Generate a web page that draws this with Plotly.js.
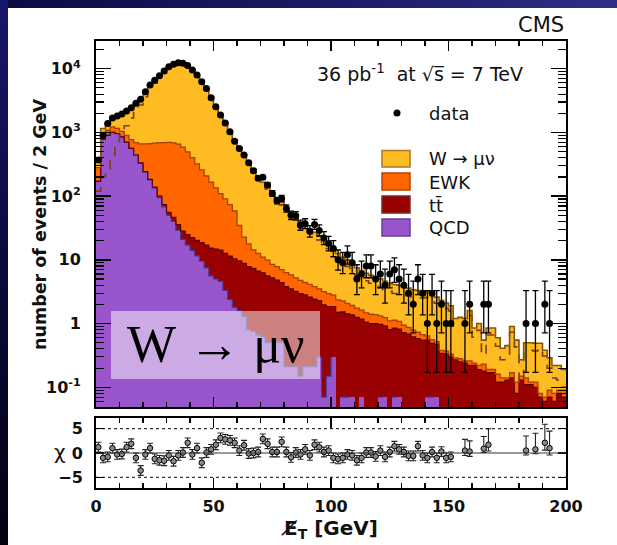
<!DOCTYPE html>
<html><head><meta charset="utf-8">
<script src="https://cdn.plot.ly/plotly-3.0.1.min.js"></script>
<style>
html,body{margin:0;padding:0;width:617px;height:545px;overflow:hidden;background:#fff;}
#topband{position:absolute;left:0;top:0;width:617px;height:8px;background:linear-gradient(to right,#0b0b45,#1d1d6a 60%,#2e2e86);z-index:2;}
#leftband{position:absolute;left:0;top:0;width:8px;height:545px;background:linear-gradient(to bottom,#17176c,#0a0a3c 50%,#02020e);z-index:2;}
#plot{position:absolute;left:8px;top:8px;width:609px;height:537px;}
</style></head><body>
<div id="topband"></div><div id="leftband"></div><div id="plot"></div>
<script>
// bin centres (GeV), 2 GeV bins
const binCenters = [1,3,5,7,9,11,13,15,17,19,21,23,25,27,29,31,33,35,37,39,41,43,45,47,49,51,53,55,57,59,61,63,65,67,69,71,73,75,77,79,81,83,85,87,89,91,93,95,97,99,101,103,105,107,109,111,113,115,117,119,121,123,125,127,129,131,133,135,137,139,141,143,145,147,149,151,153,155,157,159,161,163,165,167,169,171,173,175,177,179,181,183,185,187,189,191,193,195,197,199];

const qcd = [170,780,900,1000,960,850,700,560,440,330,
 240,180,135,95,68,50,40,29,21,17,
 14,11.5,9.5,7.5,5.6,5.0,4.6,3.3,2.4,1.8,
 1.6,1.3,0.8,0.75,0.66,0.62,0.5,0.5,0.5,0.5,
 0.21,0.21,0.21,0.15,0.21,0.21,0.21,0.3,0.07,0.15,
 0.3,0,0.07,0.07,0.07,0,0.07,0,0,0,
 0.07,0.07,0,0.07,0.07,0,0,0,0,0,
 0.07,0.07,0.07,0,0,0,0,0,0,0,
 0,0,0,0,0,0,0,0,0,0,
 0,0,0,0,0,0,0,0,0,0];

const ttbar = [0.3,0.5,0.7,0.9,1.1,1.4,1.7,2.0,2.4,2.8,
 3.2,3.7,4.2,4.8,5.3,5.8,6.3,6.8,7.3,7.8,
 8.3,8.8,9.2,9.5,9.7,9.8,9.6,9.3,9.0,8.6,
 8.0,7.5,7.0,6.6,6.0,5.6,5.1,4.7,4.3,3.9,
 3.6,3.3,3.0,2.8,2.6,2.4,2.2,2.0,1.9,1.7,
 1.55,1.5,1.45,1.35,1.3,1.25,1.1,1.05,1.0,1.0,
 0.9,0.85,0.8,0.78,0.75,0.72,0.68,0.62,0.58,0.55,
 0.48,0.42,0.40,0.34,0.33,0.30,0.27,0.25,0.24,0.22,
 0.22,0.19,0.18,0.17,0.17,0.12,0.12,0.13,0.14,0.08,
 0.13,0.11,0.11,0.10,0.07,0.06,0.07,0.06,0.08,0.07];

const ewk = [110,170,180,220,200,190,200,210,250,330,
 420,480,540,590,620,640,640,620,560,470,
 380,300,240,190,150,120,95,78,62,48,
 25,14,10,7,6,4.8,4.3,3.3,3.0,2.6,
 2.5,2.3,2.0,1.8,1.6,1.5,1.4,1.2,1.2,1.1,
 0.95,0.85,0.75,0.65,0.55,0.5,0.45,0.42,0.4,0.38,
 0.35,0.32,0.3,0.28,0.26,0.22,0.19,0.17,0.15,0.12,
 0.09,0.07,0.05,0.04,0.04,0.03,0.02,0.03,0.02,0.04,
 0.02,0.03,0.05,0.02,0.02,0.04,0.02,0.01,0.03,0.04,
 0.02,0.03,0.01,0.02,0.01,0.01,0.02,0.02,0.01,0.02];

const wmunu = [120,200,270,430,640,910,1270,1680,2160,2690,
 3640,4790,5920,7110,8510,9900,11010,11640,11610,10710,
 9200,7580,6040,4640,3380,2420,1760,1310,960,680,
 530,422,322,246,187,154,130,104,84,73,
 60,49,42,34.3,29.6,25.9,23.2,20.5,17.8,15,
 12.2,10.2,8.7,7.9,7.1,5.75,5.2,4.7,4.3,3.8,
 3.7,3.35,3.2,2.97,2.92,2.86,2.73,2.61,2.57,2.53,
 2.56,2.44,2.08,1.92,1.73,1.57,0.91,0.97,0.94,1.34,
 0.61,0.78,0.32,0.66,0.66,0.44,0.27,0.31,0.73,0.43,
 0.12,0.36,0.38,0.37,0.41,0.31,0.20,0.14,0.13,0.10];

const dataCounts = [370,900,1380,1690,1810,1950,2170,2450,2870,3330,
 4350,5530,6600,7760,9200,10700,11700,12400,12200,11200,
 9550,7940,6270,4900,3500,2520,1870,1410,1020,730,
 560,442,333,251,190,197,149,110,85,92,
 64,50,49,35,37,28,36,29,22,18,
 15,10,9,12,9,5,6,8,8,5,
 6,4,6,7,5,4,3,2,5,3,
 1,3,1,2,1,1,null,null,1,2,
 null,null,2,2,null,null,null,null,null,null,
 null,1,null,1,null,2,1,null,null,null];

const chiValues = [1.2,-1.0,-0.8,1.0,-0.3,-0.2,1.2,1.9,-1.0,-3.6,
 -0.3,1.0,-1.2,-1.5,-1.6,-0.5,-1.7,-0.5,0.1,2.1,
 -0.3,1.0,-2.0,0.1,0.75,1.7,3.1,2.8,2.6,2.1,
 0.5,1.6,-0.1,0,0.2,2.9,1.9,0.2,0.2,2.3,
 0.2,-0.9,0.1,-0.3,0.75,-0.5,1.7,1.2,0.2,0.5,
 -1.0,-1.2,-1.0,-0.3,-0.5,-1.5,-1.0,0.1,0.1,-0.7,
 0.5,-0.8,0.2,1.4,0.75,0.2,-0.6,-0.6,1.4,-0.5,
 -1.0,0.2,-1.0,0.3,-1.0,-0.8,null,null,0.5,0.3,
 null,null,0.9,1.7,null,null,null,null,null,null,
 null,0.5,null,0.75,null,2.1,1.0,null,null,null];

const chiErrUp = [1,1,1,1,1,1,1,1,1,1, 1,1,1,1,1,1,1,1,1,1, 1,1,1,1,1,1,1,1,1,1, 1,1,1,1,1,1,1,1,1,1,
 1,1,1,1,1,1,1,1,1,1, 1,1,1,1,1,1,1,1,1,1, 1,1,1,1,1,1,1,1,1,1, 1,1,1,1,1,1,0,0,2.3,2.2,
 0,0,2.5,3.3,0,0,0,0,0,0, 0,3.0,0,3.3,0,3.8,3.5,0,0,0];
const chiErrDown = [1,1,1,1,1,1,1,1,1,1, 1,1,1,1,1,1,1,1,1,1, 1,1,1,1,1,1,1,1,1,1, 1,1,1,1,1,1,1,1,1,1,
 1,1,1,1,1,1,1,1,1,1, 1,1,1,1,1,1,1,1,1,1, 1,1,1,1,1,1,1,1,1,1, 1,1,1,1,1,1,0,0,1.0,1.0,
 0,0,0.8,1.3,0,0,0,0,0,0, 0,0.9,0,0.9,0,1.5,1.4,0,0,0];

const yTickVals = [0.1,1,10,100,1000,10000];
const yTickText = ['10<sup>-1</sup>','1','10','10<sup>2</sup>','10<sup>3</sup>','10<sup>4</sup>'];
const xTickVals = [0,50,100,150,200];

// stacked levels
const lvlQ = qcd.slice();
const lvlT = lvlQ.map((v,i)=>v+ttbar[i]);
const lvlE = lvlT.map((v,i)=>v+ewk[i]);
const lvlTot = lvlE.map((v,i)=>v+wmunu[i]);

const edges = binCenters.map(c=>c-1).concat([binCenters[binCenters.length-1]+1]);
const stepY = a => a.concat([a[a.length-1]]).map(v => v>0 ? v : null);

// Poisson (Garwood, Wilson-Hilferty approx.) errors for data
const errHi = dataCounts.map(n => n==null?null:((n+1)*Math.pow(1-1/(9*(n+1))+1/(3*Math.sqrt(n+1)),3)-n));
const errLo = dataCounts.map(n => n==null?null:(n - n*Math.pow(1-1/(9*n)-1/(3*Math.sqrt(n)),3)));

const C = {w:'#FFBB22', ewk:'#FF6600', tt:'#990000', qcd:'#9955CC'};
const L = {w:'#8a5500', ewk:'#a84000', tt:'#600000', qcd:'#3c3c9a'};

function barTrace(y,col){return {type:'bar',x:binCenters,y:y,width:2,marker:{color:col,line:{width:0}},xaxis:'x2',yaxis:'y2',hoverinfo:'skip'};}
function stepTrace(y,col,w,dash){return {type:'scatter',mode:'lines',x:edges,y:stepY(y),line:{shape:'hv',color:col,width:w,dash:dash||'solid'},connectgaps:false,xaxis:'x2',yaxis:'y2',hoverinfo:'skip'};}

const traces = [
  barTrace(lvlTot,C.w), barTrace(lvlE,C.ewk), barTrace(lvlT,C.tt), barTrace(lvlQ,C.qcd),
  stepTrace(lvlQ,L.qcd,1.2), stepTrace(lvlT,L.tt,1.2), stepTrace(lvlE,L.ewk,1.3),
  stepTrace(wmunu,'#7a3d1a',1.6,'dash'),
  stepTrace(lvlTot,L.w,1.6),
  {type:'scatter',mode:'markers',x:binCenters,y:dataCounts,xaxis:'x2',yaxis:'y2',
   marker:{color:'#000',size:7},
   error_y:{type:'data',symmetric:false,array:errHi,arrayminus:errLo,color:'#000',thickness:1.3,width:3}},
  {type:'scatter',mode:'markers',x:binCenters,y:chiValues,xaxis:'x',yaxis:'y',
   marker:{color:'#8a8a8a',size:5.5,line:{color:'#000',width:1}},
   error_y:{type:'data',symmetric:false,array:chiErrUp,arrayminus:chiErrDown,color:'#222',thickness:1.1,width:3}}
];

const minorLog = [];
for (let d=-2; d<=4; d++) for (let k=2; k<=9; k++) minorLog.push(k*Math.pow(10,d));

const tickFont = {family:'DejaVu Sans', size:16, color:'#111', weight:'bold'};
const axBase = {showline:true, linewidth:2, linecolor:'#000', mirror:'allticks', showgrid:false, zeroline:false, ticks:'inside', tickcolor:'#000'};

const xPaper = px => (px-96)/470, yPaper = py => (488-py)/447;

const legendItems = [
  {label:'W → μν', fill:C.w, border:'#a87a2a', y0:150.5, y1:167, ty:158},
  {label:'EWK', fill:C.ewk, border:'#b84400', y0:173, y1:190, ty:182},
  {label:'tt̄', fill:C.tt, border:'#7a2a2a', y0:196, y1:213, ty:205},
  {label:'QCD', fill:C.qcd, border:'#6a3c9a', y0:219, y1:236, ty:227.5}
];

const shapes = [
  {type:'line',xref:'x domain',yref:'y',x0:0,x1:1,y0:5,y1:5,line:{color:'#000',width:1,dash:'dot'}},
  {type:'line',xref:'x domain',yref:'y',x0:0,x1:1,y0:-5,y1:-5,line:{color:'#000',width:1,dash:'dot'}},
  {type:'line',xref:'x domain',yref:'y',x0:0,x1:1,y0:0,y1:0,line:{color:'#333',width:1}},
  {type:'rect',xref:'paper',yref:'paper',x0:xPaper(111),x1:xPaper(320),y0:yPaper(379),y1:yPaper(311),fillcolor:'rgba(255,255,255,0.5)',line:{width:0},layer:'above'},
  {type:'circle',xref:'paper',yref:'paper',xsizemode:'pixel',ysizemode:'pixel',xanchor:xPaper(397),yanchor:yPaper(113),x0:-3.5,x1:3.5,y0:-3.5,y1:3.5,fillcolor:'#000',line:{width:0}}
];
legendItems.forEach(it=>shapes.push({type:'rect',xref:'paper',yref:'paper',x0:xPaper(382),x1:xPaper(410),y0:yPaper(it.y1),y1:yPaper(it.y0),fillcolor:it.fill,line:{color:it.border,width:1.5}}));

const txt = {family:'DejaVu Sans', color:'#111'};
const annotations = [
  {xref:'paper',yref:'paper',x:1.0,y:yPaper(25),xanchor:'right',yanchor:'middle',text:'CMS',showarrow:false,font:Object.assign({},txt,{size:21})},
  {xref:'paper',yref:'paper',x:xPaper(420),y:yPaper(73),xanchor:'center',yanchor:'middle',text:'36 pb<sup>-1</sup>  at √s̅ = 7 TeV',showarrow:false,font:Object.assign({},txt,{size:19})},
  {xref:'paper',yref:'paper',x:xPaper(427),y:yPaper(113),xanchor:'left',yanchor:'middle',text:'data',showarrow:false,font:Object.assign({},txt,{size:18})},
  {xref:'paper',yref:'paper',x:xPaper(216),y:yPaper(344),xanchor:'center',yanchor:'middle',text:'W → μν',showarrow:false,font:{family:'Liberation Serif',size:52,color:'#000'}},
  {xref:'paper',yref:'paper',x:xPaper(60),y:yPaper(452),xanchor:'center',yanchor:'middle',text:'χ',showarrow:false,font:Object.assign({},txt,{size:20})},
  {xref:'paper',yref:'paper',x:xPaper(40),y:yPaper(225),xanchor:'center',yanchor:'middle',textangle:-90,text:'<b>number of events / 2 GeV</b>',showarrow:false,font:Object.assign({},txt,{size:17.5})}
];
legendItems.forEach(it=>annotations.push({xref:'paper',yref:'paper',x:xPaper(427),y:yPaper(it.ty),xanchor:'left',yanchor:'middle',text:it.label,showarrow:false,font:Object.assign({},txt,{size:18})}));

const layout = {
  width:609, height:537,
  margin:{l:88,r:51,t:33,b:57,pad:0},
  paper_bgcolor:'#fff', plot_bgcolor:'#fff',
  showlegend:false, barmode:'overlay', bargap:0,
  xaxis: Object.assign({}, axBase, {domain:[0,1], range:[0,200], anchor:'y', tickmode:'array', tickvals:xTickVals, ticklen:10, tickwidth:1.5,
    minor:{dtick:10, tick0:0, ticks:'inside', ticklen:5, tickwidth:1.2, tickcolor:'#000', showgrid:false},
    tickfont:tickFont, ticklabelstandoff:3,
    title:{text:'<b>E̸<sub>T</sub> [GeV]</b>', font:{family:'DejaVu Sans', size:20, color:'#111'}, standoff:4}}),
  yaxis: Object.assign({}, axBase, {domain:[0,0.1566], range:[-7.2,7.2], anchor:'x', tickmode:'array', tickvals:[-5,0,5], ticklen:8, tickwidth:1.5,
    tickfont:tickFont, ticklabelstandoff:8}),
  xaxis2: Object.assign({}, axBase, {domain:[0,1], range:[0,200], anchor:'y2', matches:'x', tickmode:'array', tickvals:xTickVals, ticklen:10, tickwidth:1.5, showticklabels:false,
    minor:{dtick:10, tick0:0, ticks:'inside', ticklen:5, tickwidth:1.2, tickcolor:'#000', showgrid:false}}),
  yaxis2: Object.assign({}, axBase, {domain:[0.1812,1], type:'log', range:[-1.31,4.435], anchor:'x2', tickmode:'array', tickvals:yTickVals, ticktext:yTickText, ticklen:15, tickwidth:1.5,
    minor:{tickmode:'array', tickvals:minorLog, ticks:'inside', ticklen:8, tickwidth:1.1, tickcolor:'#000', showgrid:false},
    tickfont:tickFont, ticklabelstandoff:10}),
  shapes:shapes, annotations:annotations
};

Plotly.newPlot('plot', traces, layout, {staticPlot:true, displayModeBar:false});
</script>
</body></html>
